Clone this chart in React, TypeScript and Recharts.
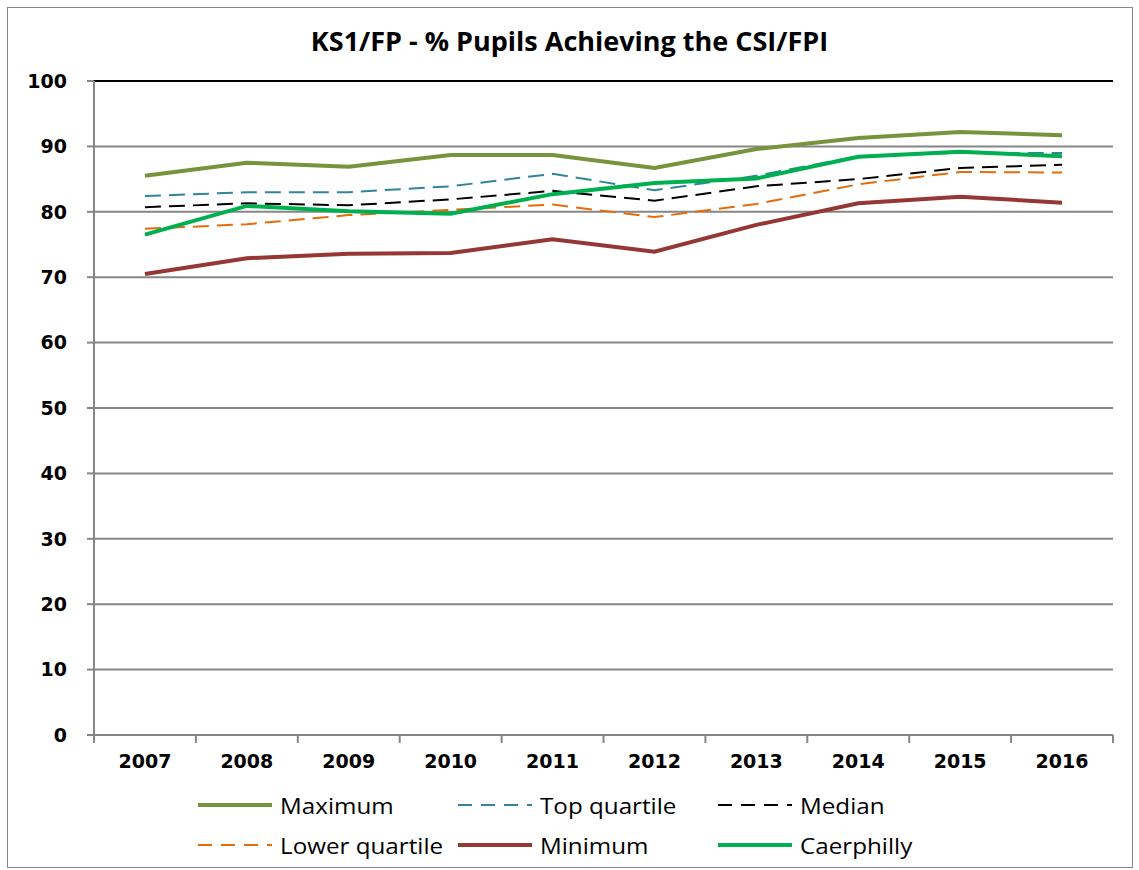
import { CartesianGrid, Line, LineChart, ReferenceLine, XAxis, YAxis } from "recharts"

// Années et séries
const years = [2007, 2008, 2009, 2010, 2011, 2012, 2013, 2014, 2015, 2016]
const maximum = [85.5, 87.5, 86.9, 88.7, 88.7, 86.7, 89.6, 91.3, 92.2, 91.7]
const topQuartile = [82.4, 83.0, 83.0, 83.9, 85.8, 83.3, 85.5, 88.5, 89.0, 89.0]
const median = [80.7, 81.3, 81.0, 81.9, 83.2, 81.7, 83.9, 85.0, 86.7, 87.2]
const lowerQuartile = [77.4, 78.1, 79.5, 80.3, 81.1, 79.2, 81.2, 84.2, 86.1, 86.0]
const minimum = [70.5, 72.9, 73.6, 73.7, 75.8, 73.9, 78.0, 81.3, 82.3, 81.4]
const caerphilly = [76.5, 80.9, 80.1, 79.7, 82.7, 84.4, 85.1, 88.4, 89.2, 88.5]
const yTicks = [0, 10, 20, 30, 40, 50, 60, 70, 80, 90, 100]

const data = years.map((year, i) => ({
  year,
  maximum: maximum[i],
  topQuartile: topQuartile[i],
  median: median[i],
  lowerQuartile: lowerQuartile[i],
  minimum: minimum[i],
  caerphilly: caerphilly[i],
}))

// limites entre catégories (graduations de l'axe X façon Excel)
const edges = [...years.map((y) => y - 0.5), years[years.length - 1] + 0.5]
const domain = [edges[0], edges[edges.length - 1]]

const series = [
  { key: "maximum", name: "Maximum", color: "#77933C", width: 4, dash: undefined },
  { key: "topQuartile", name: "Top quartile", color: "#31849B", width: 2, dash: "16 8" },
  { key: "median", name: "Median", color: "#000000", width: 2, dash: "16 8" },
  { key: "lowerQuartile", name: "Lower quartile", color: "#E46C0A", width: 2, dash: "16 8" },
  { key: "minimum", name: "Minimum", color: "#953735", width: 4, dash: undefined },
  { key: "caerphilly", name: "Caerphilly", color: "#00B050", width: 4, dash: undefined },
]

const tickFont = { fontFamily: "DejaVu Sans", fontWeight: "bold", fontSize: 19, fill: "#000" }
const grey = "#868686"

function LegendItem({ s, left, top }: { s: (typeof series)[number]; left: number; top: number }) {
  return (
    <div style={{ position: "absolute", left, top, display: "flex", alignItems: "center" }}>
      <svg width={78} height={12}>
        <line x1={2} y1={6} x2={76} y2={6} stroke={s.color} strokeWidth={s.width} strokeDasharray={s.dash ? "14 9" : undefined} />
      </svg>
      <span
        style={{
          marginLeft: 6,
          fontFamily: "Open Sans",
          fontSize: 22,
          color: "#000",
          display: "inline-block",
          transform: "scaleX(1.1)",
          transformOrigin: "left center",
          whiteSpace: "nowrap",
        }}
      >
        {s.name}
      </span>
    </div>
  )
}

export default function App() {
  const cols = [196, 456, 716]
  return (
    <div style={{ position: "absolute", left: 0, top: 0, width: 1139, height: 870, background: "#fff" }}>
      <div style={{ position: "absolute", left: 7, top: 7, width: 1124, height: 859, border: "1px solid #888" }} />
      <div
        style={{
          position: "absolute",
          left: 0,
          top: 22,
          width: 1139,
          textAlign: "center",
          fontFamily: "Open Sans",
          fontWeight: "bold",
          fontSize: 27,
          color: "#000",
        }}
      >
        KS1/FP - % Pupils Achieving the CSI/FPI
      </div>
      <div style={{ position: "absolute", left: 0, top: 0 }}>
        <LineChart width={1139} height={870} data={data} margin={{ top: 81, right: 26, left: 34, bottom: 97 }}>
          <CartesianGrid horizontal vertical={false} stroke={grey} strokeWidth={2} />
          {/* axe par défaut : graduations entre catégories */}
          <XAxis
            dataKey="year"
            type="number"
            domain={domain}
            ticks={edges}
            tickFormatter={() => ""}
            height={8}
            tickSize={8}
            axisLine={{ stroke: grey, strokeWidth: 2 }}
            tickLine={{ stroke: grey, strokeWidth: 2 }}
          />
          {/* étiquettes des années */}
          <XAxis
            xAxisId="labels"
            dataKey="year"
            type="number"
            domain={domain}
            ticks={years}
            axisLine={false}
            tickLine={false}
            tickSize={0}
            tickMargin={12}
            tick={tickFont}
            height={30}
          />
          <YAxis
            domain={[0, 100]}
            ticks={yTicks}
            width={60}
            tickSize={7}
            tickMargin={20}
            tick={tickFont}
            axisLine={{ stroke: grey, strokeWidth: 2 }}
            tickLine={{ stroke: grey, strokeWidth: 2 }}
          />
          <YAxis
            yAxisId="right"
            orientation="right"
            width={0}
            domain={[0, 100]}
            tick={false}
            tickLine={false}
            axisLine={{ stroke: "#000", strokeWidth: 2 }}
          />
          <ReferenceLine y={100} stroke="#000" strokeWidth={2} />
          {series.map((s) => (
            <Line
              key={s.key}
              type="linear"
              dataKey={s.key}
              name={s.name}
              stroke={s.color}
              strokeWidth={s.width}
              strokeDasharray={s.dash}
              dot={false}
              activeDot={false}
              isAnimationActive={false}
            />
          ))}
        </LineChart>
      </div>
      {series.map((s, i) => (
        <LegendItem key={s.key} s={s} left={cols[i % 3]} top={i < 3 ? 790 : 830} />
      ))}
    </div>
  )
}
